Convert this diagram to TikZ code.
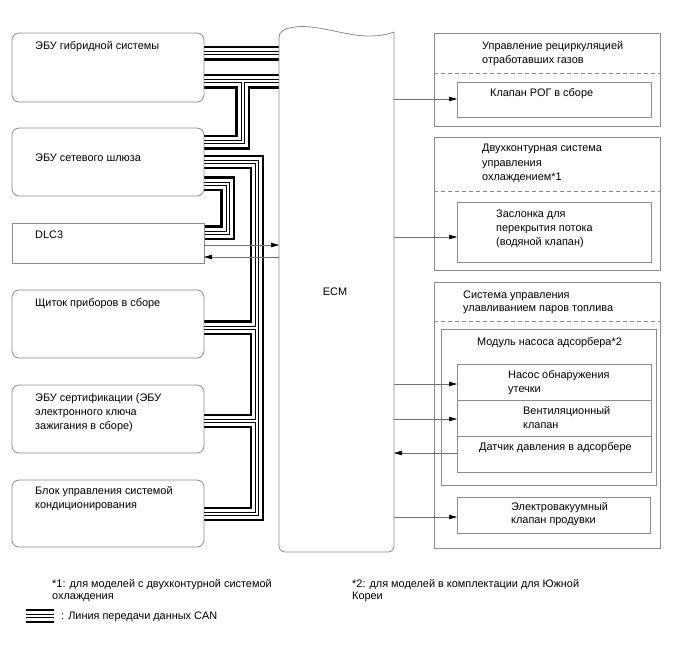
\documentclass[tikz,border=0pt]{standalone}
\usepackage{fontspec}
\setmainfont{Liberation Sans}
\usetikzlibrary{arrows.meta}
\definecolor{bd}{RGB}{140,140,140}
\newcommand\fs{\fontsize{10.9}{13}\selectfont}
\tikzset{
  lbox/.style={draw=bd, line width=0.8pt, rounded corners=7pt, anchor=north west, inner sep=0pt, outer sep=0pt},
  sbox/.style={draw=bd, line width=0.8pt, anchor=north west, inner sep=0pt, outer sep=0pt},
  txt/.style={anchor=base west, inner sep=0pt, font=\fs},
  sig/.style={draw=bd!80!black, line width=0.6pt, -{Triangle[length=8pt,width=4.5pt,color=black]}},
  dsh/.style={draw=bd, line width=0.8pt, dash pattern=on 4pt off 3pt},
}
\begin{document}
\begin{tikzpicture}[x=1pt,y=-1pt]
\useasboundingbox[fill=white] (0,0) rectangle (688,658);
% named coordinates for ECM sides
\coordinate (ecmL) at (279,300);
\coordinate (ecmR) at (394,300);
% left boxes (placed first for anchors; outlines drawn later on top of the bus)
\path (12,33) node[lbox, draw=none, minimum width=192pt, minimum height=69pt] (hyb) {};
\path (12,128) node[lbox, draw=none, minimum width=192pt, minimum height=68pt] (gw) {};
\path (12,223) node[sbox, draw=none, minimum width=192pt, minimum height=40pt] (dlc) {};
\path (12,290) node[lbox, draw=none, minimum width=192pt, minimum height=68pt] (meter) {};
\path (12,385) node[lbox, draw=none, minimum width=192pt, minimum height=68pt] (cert) {};
\path (12,480) node[lbox, draw=none, minimum width=192pt, minimum height=67pt] (ac) {};
% CAN bus network
\foreach \w/\c in {14.5/black,10/white,4/black,2/white}{
  \draw[line width=\w pt, draw=\c]
    (hyb.east |- 0,53.5) -- (ecmL |- 0,53.5)
    (hyb.east |- 0,81.5) -- (ecmL |- 0,81.5)
    (242.5,81.5) -- (242.5,142.5) -- (gw.east |- 0,142.5)
    (gw.east |- 0,162) -- (257,162) -- (257,514) -- (ac.east |- 0,514)
    (257,327.5) -- (meter.east |- 0,327.5)
    (257,421) -- (cert.east |- 0,421)
    (gw.east |- 0,183.5) -- (227.5,183.5) -- (227.5,232.5) -- (dlc.east |- 0,232.5)
    (26,616) coordinate (lg1) -- (54,616) coordinate (lg2);
}
% left boxes outlines
\draw[draw=bd, line width=0.8pt, rounded corners=7pt] (hyb.north west) rectangle (hyb.south east);
\draw[draw=bd, line width=0.8pt, rounded corners=7pt] (gw.north west) rectangle (gw.south east);
\draw[draw=bd, line width=0.8pt] (dlc.north west) rectangle (dlc.south east);
\draw[draw=bd, line width=0.8pt, rounded corners=7pt] (meter.north west) rectangle (meter.south east);
\draw[draw=bd, line width=0.8pt, rounded corners=7pt] (cert.north west) rectangle (cert.south east);
\draw[draw=bd, line width=0.8pt, rounded corners=7pt] (ac.north west) rectangle (ac.south east);
\node[txt] (t1) at (35,50) {ЭБУ гибридной системы};
\node[txt] (t2) at (35,161) {ЭБУ сетевого шлюза};
\node[txt] (t3) at (35,238) {DLC3};
\node[txt] (t4) at (35,306) {Щиток приборов в сборе};
\node[txt] (t5a) at (35,401) {ЭБУ сертификации (ЭБУ};
\node[txt] (t5b) at (35,415) {электронного ключа};
\node[txt] (t5c) at (35,429) {зажигания в сборе)};
\node[txt] (t6a) at (35,494) {Блок управления системой};
\node[txt] (t6b) at (35,508) {кондиционирования};
% ECM
\draw[draw=bd, line width=0.8pt] (279,38) [rounded corners=6pt] -- (279,552) -- (394,552) -- (394,520) [sharp corners] -- (394,32)
  .. controls (386,35) and (375,37.5) .. (355,35)
  .. controls (330,31) and (310,24) .. (292,27.5)
  .. controls (283,29) and (279,32) .. (279,38) -- cycle;
\node[font=\fs, inner sep=0pt] (ecm) at (335,292) {ECM};
% right side
\node[sbox, minimum width=226pt, minimum height=93pt] (egrsys) at (434,33) {};
\draw[dsh] (egrsys.west |- 0,73) -- (egrsys.east |- 0,73);
\node[txt] (r1a) at (482,50) {Управление рециркуляцией};
\node[txt] (r1b) at (482,63.5) {отработавших газов};
\node[sbox, minimum width=194pt, minimum height=35pt] (egr) at (457,82) {};
\node[txt] (r1c) at (490,96.5) {Клапан РОГ в сборе};

\node[sbox, minimum width=226pt, minimum height=133pt] (cool) at (434,137) {};
\draw[dsh] (cool.west |- 0,191) -- (cool.east |- 0,191);
\node[txt] (r2a) at (482,152) {Двухконтурная система};
\node[txt] (r2b) at (482,166) {управления};
\node[txt] (r2c) at (482,180) {охлаждением*1};
\node[sbox, minimum width=194pt, minimum height=60pt] (wv) at (457,202) {};
\node[txt] (r2d) at (496,217) {Заслонка для};
\node[txt] (r2e) at (496,231) {перекрытия потока};
\node[txt] (r2f) at (496,245) {(водяной клапан)};

\node[sbox, minimum width=226pt, minimum height=266pt] (evap) at (434,282) {};
\draw[dsh] (evap.west |- 0,321) -- (evap.east |- 0,321);
\node[txt] (r3a) at (463,298) {Система управления};
\node[txt] (r3b) at (463,311.5) {улавливанием паров топлива};
\node[sbox, minimum width=215pt, minimum height=156pt] (mod) at (441,329) {};
\node[txt] (r3c) at (477,345) {Модуль насоса адсорбера*2};
\node[sbox, minimum width=194pt, minimum height=36pt] (leak) at (457,364) {};
\node[sbox, minimum width=194pt, minimum height=36pt] (vent) at (457,400) {};
\node[sbox, minimum width=194pt, minimum height=36pt] (sens) at (457,436) {};
\node[txt] (r3d) at (508,378) {Насос обнаружения};
\node[txt] (r3e) at (508,392) {утечки};
\node[txt] (r3f) at (523,414) {Вентиляционный};
\node[txt] (r3g) at (523,428) {клапан};
\node[txt] (r3h) at (479,450.5) {Датчик давления в адсорбере};
\node[sbox, minimum width=193pt, minimum height=36pt] (vsv) at (457,497) {};
\node[txt] (r3i) at (511,510.5) {Электровакуумный};
\node[txt] (r3j) at (511,523.5) {клапан продувки};
% signal arrows
\draw[sig] (ecmR |- 0,99) -- (egr.west |- 0,99);
\draw[sig] (ecmR |- 0,237) -- (wv.west |- 0,237);
\draw[sig] (ecmR |- 0,384) -- (leak.west |- 0,384);
\draw[sig] (ecmR |- 0,419) -- (vent.west |- 0,419);
\draw[sig] (sens.west |- 0,453) -- (ecmR |- 0,453);
\draw[sig] (ecmR |- 0,517) -- (vsv.west |- 0,517);
\draw[sig] (dlc.east |- 0,245) -- (ecmL |- 0,245);
\draw[sig] (ecmL |- 0,257) -- (dlc.east |- 0,257);
% footnotes and legend
\node[txt] (f1a) at (52,587) {*1: для моделей с двухконтурной системой};
\node[txt] (f1b) at (52,599) {охлаждения};
\node[txt] (f2a) at (352,587) {*2: для моделей в комплектации для Южной};
\node[txt] (f2b) at (352,599) {Кореи};
\node[txt] (lgt) at (61,619) {: Линия передачи данных CAN};
\end{tikzpicture}
\end{document}
